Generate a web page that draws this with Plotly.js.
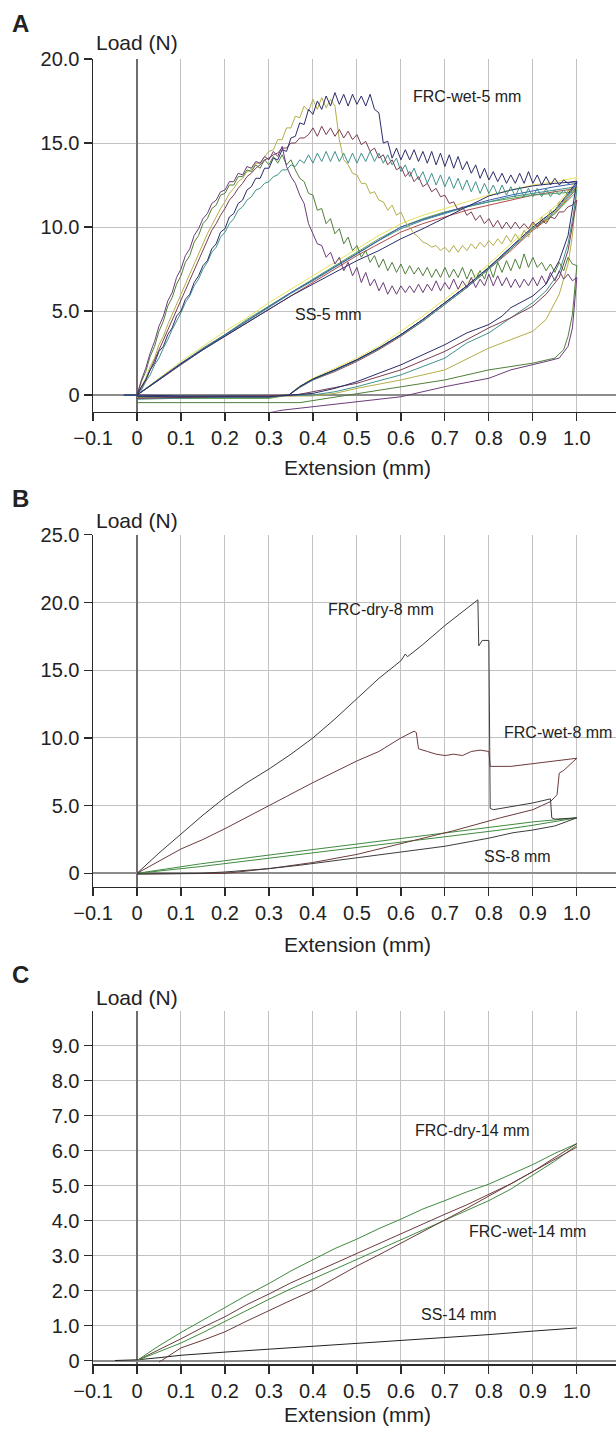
<!DOCTYPE html>
<html><head><meta charset="utf-8">
<script src="https://cdn.plot.ly/plotly-3.0.1.min.js"></script>
<style>html,body{margin:0;padding:0;background:#fff}</style>
</head><body><div id="chart" style="width:616px;height:1431px"></div>
<script>
// ---------- tick labels ----------
const xTickVals = [-0.1,0,0.1,0.2,0.3,0.4,0.5,0.6,0.7,0.8,0.9,1.0];
const xTickText = ['\u22120.1','0','0.1','0.2','0.3','0.4','0.5','0.6','0.7','0.8','0.9','1.0'];
const yTickValsA = [0,5,10,15,20];
const yTickTextA = ['0','5.0','10.0','15.0','20.0'];
const yTickValsB = [0,5,10,15,20,25];
const yTickTextB = ['0','5.0','10.0','15.0','20.0','25.0'];
const yTickValsC = [0,1,2,3,4,5,6,7,8,9];
const yTickTextC = ['0','1.0','2.0','3.0','4.0','5.0','6.0','7.0','8.0','9.0'];
const xTitle = 'Extension (mm)';
const yTitle = 'Load (N)';
const panelLetters = ['A','B','C'];
const labelsA = ['FRC-wet-5 mm','SS-5 mm'];
const labelsB = ['FRC-dry-8 mm','FRC-wet-8 mm','SS-8 mm'];
const labelsC = ['FRC-dry-14 mm','FRC-wet-14 mm','SS-14 mm'];

// ---------- Panel A : FRC-wet-5 mm loading (extension grid 0..1.00) ----------
const ext = [0,0.01,0.02,0.03,0.04,0.05,0.06,0.07,0.08,0.09,
 0.10,0.11,0.12,0.13,0.14,0.15,0.16,0.17,0.18,0.19,
 0.20,0.21,0.22,0.23,0.24,0.25,0.26,0.27,0.28,0.29,
 0.30,0.31,0.32,0.33,0.34,0.35,0.36,0.37,0.38,0.39,
 0.40,0.41,0.42,0.43,0.44,0.45,0.46,0.47,0.48,0.49,
 0.50,0.51,0.52,0.53,0.54,0.55,0.56,0.57,0.58,0.59,
 0.60,0.61,0.62,0.63,0.64,0.65,0.66,0.67,0.68,0.69,
 0.70,0.71,0.72,0.73,0.74,0.75,0.76,0.77,0.78,0.79,
 0.80,0.81,0.82,0.83,0.84,0.85,0.86,0.87,0.88,0.89,
 0.90,0.91,0.92,0.93,0.94,0.95,0.96,0.97,0.98,0.99,1.00];
const wetA1 = [0,0.5,0.9,1.5,1.9,2.6,2.9,3.6,4.0,4.7,
 5.0,5.7,6.0,6.7,7.1,7.7,8.0,8.7,9.0,9.7,
 9.9,10.6,10.8,11.4,11.6,12.2,12.4,12.9,12.9,13.5,
 13.5,14.1,14.0,14.6,14.5,15.3,15.4,16.2,16.1,17.0,
 16.7,17.5,17.0,17.8,17.2,18.0,17.3,17.9,17.2,17.9,
 17.3,17.8,17.2,17.9,17.0,16.8,15.0,15.1,14.1,14.7,
 14.0,14.6,14.0,14.6,13.9,14.5,13.8,14.5,13.7,14.4,
 13.6,14.3,13.5,14.2,13.4,13.9,13.2,13.7,12.9,13.5,
 12.8,13.3,12.7,13.2,12.6,13.1,12.6,13.2,12.6,13.3,
 12.6,13.1,12.5,13.0,12.5,12.9,12.5,12.8,12.6,12.7,12.7];
const wetA2 = [0,0.5,1.0,1.7,2.2,3.0,3.5,4.2,4.8,5.5,
 6.0,6.6,7.2,7.8,8.4,9.0,9.6,10.1,10.6,11.1,
 11.5,12.0,12.3,12.7,12.9,13.3,13.4,13.8,13.8,14.2,
 14.5,14.6,15.2,15.2,15.9,15.9,16.6,16.5,17.2,16.9,
 17.6,17.0,17.7,17.1,17.6,17.2,15.2,14.0,13.7,13.2,
 13.1,12.6,12.6,12.0,12.1,11.6,11.5,11.0,11.3,10.7,
 10.9,10.3,10.0,9.6,9.4,9.1,9.0,8.8,8.9,8.6,
 8.8,8.5,8.9,8.5,8.9,8.6,9.0,8.7,9.1,8.8,
 9.2,8.9,9.3,9.0,9.5,9.1,9.6,9.2,9.8,9.4,
 10.2,9.9,10.6,10.3,11.0,10.8,11.5,11.4,12.2,12.1,12.4];
const wetA3 = [0,0.4,0.9,1.5,2.0,2.7,3.2,3.9,4.5,5.1,
 5.7,6.3,6.9,7.5,8.1,8.7,9.2,9.8,10.2,10.7,
 11.1,11.6,11.9,12.3,12.6,13.0,13.2,13.5,13.7,14.0,
 14.1,14.3,14.4,14.7,14.7,15.0,15.0,15.3,15.3,15.5,
 15.9,15.4,16.0,15.5,15.9,15.4,15.8,15.3,15.7,15.2,
 15.5,14.9,15.1,14.5,14.7,14.1,14.3,13.7,14.0,13.4,
 13.6,13.0,13.3,12.7,13.0,12.4,12.6,12.1,12.3,11.8,
 11.9,11.4,11.5,11.0,11.2,10.7,10.9,10.4,10.7,10.2,
 10.5,10.0,10.4,9.9,10.3,9.9,10.3,9.9,10.2,9.9,
 10.3,10.0,10.4,10.2,10.6,10.5,10.9,10.9,11.2,11.3,11.6];
const wetA4 = [0,0.3,0.8,1.2,1.8,2.2,2.8,3.3,3.9,4.4,
 4.9,5.5,5.9,6.5,6.9,7.5,7.9,8.5,8.8,9.4,
 9.7,10.2,10.5,11.0,11.2,11.6,11.8,12.2,12.3,12.6,
 12.7,13.0,13.1,13.4,13.4,13.7,13.6,14.0,13.8,14.3,
 13.8,14.4,13.9,14.5,13.9,14.5,13.9,14.4,13.8,14.4,
 13.8,14.4,13.9,14.5,13.9,14.4,13.8,14.3,13.7,14.1,
 13.3,13.7,13.0,13.5,12.8,13.3,12.6,13.2,12.5,13.1,
 12.4,13.0,12.3,12.9,12.2,12.8,12.1,12.7,12.0,12.6,
 12.0,12.5,11.9,12.5,11.9,12.4,11.8,12.4,11.8,12.3,
 11.8,12.3,11.8,12.3,11.8,12.2,11.9,12.2,11.9,12.2,12.2];
const wetA5 = [0,0.9,1.6,2.5,3.2,4.1,4.7,5.6,6.1,7.0,
 7.5,8.3,8.7,9.5,9.9,10.5,10.8,11.4,11.6,12.1,
 12.2,12.7,12.7,13.2,13.1,13.6,13.5,13.9,13.8,14.2,
 14.0,14.5,14.2,14.8,13.6,13.0,12.6,11.9,11.4,10.2,
 9.6,9.0,8.9,8.2,8.5,7.8,8.2,7.4,7.9,7.1,
 7.6,6.7,7.3,6.5,6.9,6.2,6.7,6.0,6.5,6.0,
 6.5,6.1,6.5,6.1,6.6,6.1,6.6,6.2,6.8,6.2,
 6.7,6.3,6.9,6.3,6.8,6.4,7.0,6.4,6.9,6.5,
 7.2,6.5,7.1,6.5,7.0,6.4,6.9,6.4,6.9,6.5,
 7.0,6.5,7.1,6.6,7.3,6.8,7.4,6.9,7.2,6.8,7.0];
const wetA6 = [0,0.8,1.4,2.3,2.9,3.8,4.4,5.3,5.8,6.6,
 7.1,7.9,8.3,9.1,9.5,10.2,10.5,11.1,11.3,11.9,
 12.0,12.5,12.5,13.0,13.0,13.4,13.3,13.7,13.5,14.0,
 13.7,14.2,13.8,14.3,13.7,14.0,13.4,12.9,12.7,12.0,
 11.9,11.0,11.1,10.2,10.5,9.6,9.9,9.0,9.4,8.6,
 8.9,8.2,8.6,7.9,8.3,7.6,8.1,7.4,7.9,7.3,
 7.8,7.2,7.7,7.2,7.6,7.1,7.6,7.0,7.5,7.0,
 7.6,7.0,7.5,7.0,7.6,6.9,7.5,6.9,7.4,6.9,
 7.7,7.0,7.9,7.3,8.0,7.4,8.1,7.5,8.4,7.6,
 8.2,7.6,7.9,7.4,7.8,7.3,7.9,7.4,8.2,7.8,7.7];

// ---------- Panel A : FRC-wet-5 mm unloading ----------
const unA1x = [1.0,0.99,0.98,0.96,0.93,0.9,0.85,0.83,0.8,0.75,0.7,0.65,0.6,0.55,0.5,0.45,0.4,0.35,0.3,0];
const unA1y = [12.7,11.0,9.5,8.0,6.6,5.9,5.2,4.7,4.2,3.7,3.0,2.4,1.8,1.3,0.8,0.4,0.1,0,-0.1,-0.1];
const unA2x = [1.0,0.99,0.98,0.96,0.93,0.9,0.85,0.8,0.7,0.6,0.5,0.45,0.4,0];
const unA2y = [12.4,9.5,7.8,6.0,4.5,3.8,3.3,2.8,1.5,0.9,0.4,0.1,-0.05,-0.15];
const unA3x = [1.0,0.99,0.98,0.96,0.93,0.9,0.85,0.8,0.75,0.7,0.6,0.5,0.4,0.36,0];
const unA3y = [11.6,10.0,8.6,7.0,6.0,5.3,4.6,4.0,3.3,2.6,1.5,0.7,0.2,0,-0.2];
const unA4x = [1.0,0.99,0.98,0.96,0.93,0.9,0.85,0.8,0.75,0.7,0.6,0.5,0.45,0.4,0];
const unA4y = [12.2,10.4,9.0,7.3,6.2,5.5,4.6,3.7,3.1,2.2,1.2,0.5,0.2,0,-0.25];
const unA5x = [1.0,0.995,0.99,0.98,0.96,0.93,0.9,0.85,0.8,0.7,0.6,0.5,0.4,0.33,0.3];
const unA5y = [7.0,5.2,4.0,2.9,2.2,2.0,1.8,1.5,1.0,0.5,-0.1,-0.4,-0.7,-0.9,-1.05];
const unA6x = [1.0,0.995,0.99,0.98,0.97,0.95,0.9,0.85,0.8,0.7,0.6,0.5,0.37,0];
const unA6y = [7.7,6.0,4.8,3.5,2.7,2.2,1.9,1.7,1.5,0.9,0.5,0.1,-0.45,-0.45];

// ---------- Panel A : SS-5 mm loops ----------
const ssLoadX = [-0.03,0,0.05,0.1,0.15,0.2,0.25,0.3,0.35,0.4,0.45,0.5,0.55,0.6,0.65,0.7,0.75,0.8,0.85,0.9,0.95,1.0];
const ssUnloadX = [1.0,0.98,0.95,0.9,0.85,0.8,0.75,0.7,0.65,0.6,0.55,0.5,0.45,0.4,0.37,0.345,0.3,0.2,0.1,0];
const ssYellowLoad = [0,0,1.0,2.0,2.9,3.8,4.6,5.5,6.3,7.1,7.9,8.7,9.5,10.2,10.7,11.1,11.5,11.9,12.2,12.5,12.7,12.95];
const ssYellowUnl  = [12.95,12.1,11.2,10.2,9.0,7.8,6.7,5.7,4.7,3.8,2.9,2.2,1.6,1.0,0.55,0,-0.1,-0.1,-0.1,-0.05];
const ssRedLoad    = [0,0,0.9,1.8,2.7,3.5,4.3,5.1,5.9,6.7,7.5,8.3,9.0,9.7,10.2,10.6,11.0,11.3,11.6,11.9,12.1,12.3];
const ssRedUnl     = [12.3,11.7,10.8,9.8,8.6,7.5,6.4,5.4,4.4,3.5,2.7,2.0,1.4,0.9,0.45,0,-0.15,-0.15,-0.15,-0.1];
const ssGreenLoad  = [0,0,0.95,1.9,2.8,3.6,4.5,5.3,6.1,6.9,7.7,8.5,9.3,10.0,10.5,10.9,11.2,11.5,11.7,11.9,12.0,12.1];
const ssGreenUnl   = [12.1,11.6,10.8,9.9,8.7,7.6,6.5,5.5,4.5,3.6,2.8,2.1,1.5,0.95,0.5,0,-0.2,-0.2,-0.2,-0.15];
const ssNavyLoad   = [0,0,0.9,1.85,2.7,3.5,4.35,5.15,5.9,6.6,7.3,8.0,8.6,9.3,9.9,10.55,11.2,11.85,12.2,12.45,12.6,12.7];
const ssNavyUnl    = [12.7,12.0,11.0,10.0,8.8,7.6,6.5,5.5,4.5,3.6,2.8,2.1,1.5,0.95,0.5,0,-0.05,-0.05,-0.05,0];
const ssBlueLoad   = [0,0,0.95,1.9,2.75,3.6,4.45,5.3,6.1,6.85,7.65,8.45,9.25,10.0,10.45,10.85,11.25,11.6,11.9,12.15,12.4,12.6];
const ssBlueUnl    = [12.6,11.9,11.0,10.0,8.8,7.6,6.5,5.5,4.5,3.6,2.8,2.1,1.5,0.95,0.5,0,-0.1,-0.1,-0.1,-0.05];
const ssTealLoad   = [0,0,0.95,1.85,2.7,3.55,4.4,5.25,6.05,6.8,7.6,8.4,9.2,9.9,10.4,10.8,11.2,11.5,11.8,12.0,12.2,12.4];
const ssTealUnl    = [12.4,11.8,10.9,9.9,8.7,7.5,6.4,5.4,4.4,3.55,2.75,2.05,1.45,0.9,0.45,0,-0.12,-0.12,-0.12,-0.08];

// ---------- Panel B ----------
const dry8x = [0,0.05,0.1,0.15,0.2,0.25,0.3,0.35,0.4,0.45,0.5,0.55,0.6,0.61,0.615,0.65,0.7,0.75,0.775,0.777,0.785,0.8,0.803,0.81,0.85,0.9,0.94,0.943,0.95,1.0,
               0.95,0.9,0.855,0.8,0.7,0.6,0.5,0.37,0.3,0.2,0.14,0];
const dry8y = [0,1.5,2.9,4.3,5.6,6.7,7.7,8.8,10.0,11.4,12.9,14.4,15.7,16.2,16.0,16.9,18.3,19.6,20.2,16.8,17.2,17.2,4.8,4.7,4.9,5.2,5.5,4.1,4.0,4.1,
               3.5,3.2,3.0,2.6,2.0,1.55,1.15,0.6,0.35,0.1,0,-0.05];
const wet8x = [0,0.05,0.1,0.15,0.2,0.3,0.4,0.5,0.55,0.6,0.62,0.63,0.635,0.64,0.66,0.68,0.7,0.72,0.74,0.76,0.78,0.8,0.803,0.85,0.9,0.95,1.0,
               0.97,0.96,0.955,0.94,0.9,0.826,0.72,0.6,0.5,0.4,0.3,0.2,0];
const wet8y = [0,0.9,1.8,2.5,3.3,5.0,6.7,8.3,9.0,10.0,10.3,10.5,10.4,9.2,9.0,8.8,8.7,8.8,8.7,9.0,9.1,9.0,7.9,7.9,8.1,8.3,8.5,
               7.6,7.4,5.8,5.3,4.7,4.1,3.15,2.2,1.4,0.8,0.35,0,-0.05];
const ss8LoadX = [0,0.144,0.3,0.5,0.7,0.826,0.9,1.0];
const ss8LoadY = [0,0.7,1.35,2.15,2.95,3.5,3.8,4.1];
const ss8UnlX  = [1.0,0.9,0.826,0.7,0.5,0.3,0.144,0];
const ss8UnlY  = [4.1,3.55,3.2,2.7,1.9,1.15,0.5,0];

// ---------- Panel C ----------
const cLoadX = [0,0.05,0.1,0.15,0.2,0.25,0.3,0.35,0.4,0.45,0.5,0.55,0.6,0.65,0.7,0.75,0.8,0.85,0.9,0.95,1.0];
const dry14Load = [0,0.42,0.8,1.16,1.5,1.87,2.2,2.56,2.88,3.2,3.47,3.77,4.04,4.33,4.57,4.82,5.04,5.32,5.6,5.92,6.2];
const dry14Unl  = [0,0.3,0.62,0.95,1.25,1.6,1.9,2.22,2.5,2.8,3.08,3.36,3.62,3.9,4.18,4.45,4.75,5.05,5.4,5.8,6.2];
const wet14Load = [0,0.24,0.5,0.8,1.12,1.44,1.75,2.05,2.33,2.62,2.9,3.18,3.45,3.72,4.0,4.28,4.57,4.9,5.3,5.7,6.15];
const wet14UnlX = [0.05,0.1,0.15,0.2,0.25,0.3,0.35,0.4,0.45,0.5,0.55,0.6,0.65,0.7,0.75,0.8,0.85,0.9,0.95,1.0];
const wet14Unl  = [-0.05,0.36,0.58,0.82,1.13,1.43,1.72,2.0,2.35,2.7,3.02,3.35,3.67,4.0,4.35,4.7,5.05,5.4,5.75,6.1];
const ss14X = [-0.05,0,0.05,0.1,0.2,0.3,0.4,0.5,0.6,0.7,0.8,0.9,1.0];
const ss14Y = [0,0.02,0.08,0.15,0.24,0.32,0.4,0.48,0.56,0.64,0.74,0.84,0.93];

// ---------- colours ----------
const C = {navy:'#2a2c6a', olive:'#b3ad48', maroon:'#7a3d52', teal:'#3f918c', purple:'#6b3c78', green:'#4f7f3a',
  yellow:'#e8e25c', red:'#b24a4a', sgreen:'#5aa14e', blue:'#3a5cb0', dark:'#3c3c3c', brown:'#6d3b3b', cgreen:'#3f8a3f'};

const traces = [];
function add(x, y, color, ax){
  traces.push({type:'scatter', mode:'lines', x:x, y:y, xaxis:'x'+(ax>1?ax:''), yaxis:'y'+(ax>1?ax:''),
    line:{color:color, width:1}, hoverinfo:'skip', showlegend:false});
}
function concat(a,b){ return a.concat(b); }

// Panel A
add(concat(ssLoadX,ssUnloadX), concat(ssYellowLoad,ssYellowUnl), C.yellow, 1);
add(concat(ssLoadX,ssUnloadX), concat(ssRedLoad,ssRedUnl), C.red, 1);
add(concat(ssLoadX,ssUnloadX), concat(ssGreenLoad,ssGreenUnl), C.sgreen, 1);
add(concat(ssLoadX,ssUnloadX), concat(ssTealLoad,ssTealUnl), C.teal, 1);
add(concat(ssLoadX,ssUnloadX), concat(ssBlueLoad,ssBlueUnl), C.blue, 1);
add(concat(ssLoadX,ssUnloadX), concat(ssNavyLoad,ssNavyUnl), C.navy, 1);
add(concat(ext,unA2x), concat(wetA2,unA2y), C.olive, 1);
add(concat(ext,unA4x), concat(wetA4,unA4y), C.teal, 1);
add(concat(ext,unA6x), concat(wetA6,unA6y), C.green, 1);
add(concat(ext,unA3x), concat(wetA3,unA3y), C.maroon, 1);
add(concat(ext,unA5x), concat(wetA5,unA5y), C.purple, 1);
add(concat(ext,unA1x), concat(wetA1,unA1y), C.navy, 1);
// Panel B
add(concat(ss8LoadX,ss8UnlX), concat(ss8LoadY,ss8UnlY), C.cgreen, 2);
add(wet8x, wet8y, C.brown, 2);
add(dry8x, dry8y, C.dark, 2);
// Panel C
add(ss14X, ss14Y, '#222', 3);
add(cLoadX, dry14Load, C.cgreen, 3);
add(cLoadX.slice().reverse(), dry14Unl.slice().reverse(), C.brown, 3);
add(cLoadX, wet14Load, C.cgreen, 3);
add(wet14UnlX, wet14Unl, C.brown, 3);

const FONT = '"Liberation Sans", Arial, Helvetica, sans-serif';
const GRID = '#c2c2c2';
function xax(anchor){
  return {anchor:anchor, domain:[0,1], range:[-0.1,1.089], tickmode:'array', tickvals:xTickVals, ticktext:xTickText,
    showgrid:true, gridcolor:GRID, gridwidth:1, zeroline:true, zerolinecolor:'#6e6e6e', zerolinewidth:1.2,
    showline:true, linecolor:'#2a2a2a', linewidth:1.5, ticks:'outside', ticklen:8, tickwidth:1.2, tickcolor:'#2a2a2a',
    tickfont:{family:FONT, size:20, color:'#222'}, fixedrange:true};
}
function yax(anchor, dom, rng, tv, tt, minorVals){
  return {anchor:anchor, domain:dom, range:rng, tickmode:'array', tickvals:tv, ticktext:tt,
    showgrid:false, minor:{tickvals:minorVals, showgrid:true, gridcolor:GRID, gridwidth:1, ticks:''},
    zeroline:true, zerolinecolor:'#8c8c8c', zerolinewidth:2,
    showline:true, linecolor:'#2a2a2a', linewidth:1.5, ticks:'outside', ticklen:8, tickwidth:1.2, tickcolor:'#2a2a2a',
    tickfont:{family:FONT, size:20, color:'#222'}, fixedrange:true};
}

function ann(text, x, y, xref, yref, size, bold){
  return {text: bold ? '<b>'+text+'</b>' : text, x:x, y:y, xref:xref, yref:yref, showarrow:false,
    xanchor:'center', yanchor:'middle', font:{family:FONT, size:size, color:'#222'}};
}
const annotations = [
  ann(panelLetters[0], -0.138, 1.027, 'paper','paper', 24, true),
  ann(panelLetters[1], -0.138, 0.6633, 'paper','paper', 24, true),
  ann(panelLetters[2], -0.138, 0.2984, 'paper','paper', 24, true),
  ann(yTitle, 0.085, 1.0123, 'paper','paper', 21),
  ann(yTitle, 0.085, 0.6465, 'paper','paper', 21),
  ann(yTitle, 0.085, 0.2811, 'paper','paper', 21),
  ann(xTitle, 0.5057, 0.6867, 'paper','paper', 21),
  ann(xTitle, 0.5057, 0.3213, 'paper','paper', 21),
  ann(xTitle, 0.5057, -0.0385, 'paper','paper', 21),
  ann(labelsA[0], 0.751, 17.74, 'x','y', 16),
  ann(labelsA[1], 0.435, 4.82, 'x','y', 16),
  ann(labelsB[0], 0.555, 19.47, 'x2','y2', 16),
  ann(labelsB[1], 0.957, 10.4, 'x2','y2', 16),
  ann(labelsB[2], 0.866, 1.25, 'x2','y2', 16),
  ann(labelsC[0], 0.762, 6.58, 'x3','y3', 16),
  ann(labelsC[1], 0.887, 3.69, 'x3','y3', 16),
  ann(labelsC[2], 0.7325, 1.31, 'x3','y3', 16)
];

const layout = {
  width:616, height:1431, margin:{l:93, r:0, t:59, b:66.5, pad:0},
  paper_bgcolor:'#fff', plot_bgcolor:'#fff', showlegend:false,
  font:{family:FONT, color:'#222'},
  xaxis: xax('y'), xaxis2: xax('y2'), xaxis3: xax('y3'),
  yaxis: yax('x', [0.7296,1], [-1,20], yTickValsA, yTickTextA, [5,10,15]),
  yaxis2: yax('x2', [0.3656,0.6354], [-1,25], yTickValsB, yTickTextB, [5,10,15,20]),
  yaxis3: yax('x3', [0,0.2708], [-0.1,10], yTickValsC, yTickTextC, [1,2,3,4,5,6,7,8,9]),
  annotations: annotations
};
Plotly.newPlot('chart', traces, layout, {staticPlot:true, displayModeBar:false});
</script></body></html>
